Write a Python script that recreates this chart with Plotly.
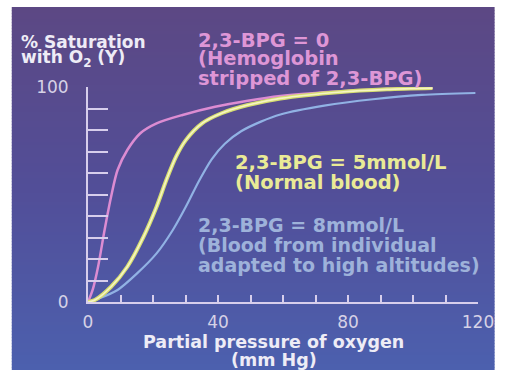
import plotly.graph_objects as go

# Oxygen dissociation curves of hemoglobin at three 2,3-BPG levels
# partial pressure of O2 (mm Hg) and % saturation (Y)
pink_po2 = [0, 1.5, 3.1, 5.1, 7.1, 9.1, 12.1, 16.1, 21.1, 29.1, 39.1, 49.2, 59.2, 75, 90, 106]
pink_sat = [0, 6, 16.4, 33.5, 49, 61.4, 70.7, 78.5, 83.1, 87, 90.8, 93.6, 95.8, 97.8, 99, 99.6]

yellow_po2 = [0, 2.1, 7.1, 12.1, 17.1, 21.1, 24.1, 27.1, 30.1, 35.1, 41.1, 49.2, 59.2, 77.8, 92, 106]
yellow_sat = [0, 0.9, 7.1, 16.4, 30.4, 44.3, 56.7, 67.6, 75.3, 83.1, 87.8, 91.6, 94.7, 97.7, 98.9, 99.5]

blue_po2 = [0, 3.1, 9.1, 15.1, 21.1, 26.1, 30.1, 34.1, 38.1, 42.1, 47.1, 53.2, 59.2, 72.7, 87.7, 102.7, 119.2]
blue_sat = [0, 1.5, 5.6, 13.3, 22.6, 33.5, 44.3, 56.2, 66.5, 73.6, 79.4, 83.9, 87.2, 91.3, 94.3, 96.3, 97.2]

x_label_vals = [0, 40, 80, 120]
x_label_text = ["0", "40", "80", "120"]
y_label_vals = [0, 100]
y_label_text = ["0", "100"]

W, H = 506, 370
ML, MR, MT, MB = 88, 19, 87, 68
PW, PH = W - ML - MR, H - MT - MB


def px(x):
    return (x - ML) / PW


def py(y):
    return (H - MB - y) / PH


fig = go.Figure()

# (x, y, colour, width); the normal-blood curve gets a pale core over a yellow stroke
series = [
    (pink_po2, pink_sat, "rgb(220,140,210)", 2.5),
    (blue_po2, blue_sat, "rgb(145,178,228)", 2.2),
    (yellow_po2, yellow_sat, "rgb(214,222,112)", 4),
    (yellow_po2, yellow_sat, "rgb(246,244,196)", 1.6),
]
for xs, ys, col, w in series:
    fig.add_trace(go.Scatter(
        x=xs, y=ys, mode="lines",
        line=dict(color=col, width=w, shape="spline", smoothing=0.8),
        hoverinfo="skip", showlegend=False, cliponaxis=False,
    ))

# vertical purple-to-blue backdrop
stops = [(0.0, (92, 72, 132)), (0.5, (82, 78, 152)), (1.0, (76, 96, 174))]


def grad(t):
    for (t0, c0), (t1, c1) in zip(stops[:-1], stops[1:]):
        if t <= t1:
            f = (t - t0) / (t1 - t0)
            return tuple(round(a + (b - a) * f) for a, b in zip(c0, c1))
    return stops[-1][1]


top, bottom, left, right = 7, H, 10, 504
n = 121
shapes = []
for i in range(n):
    y0 = top + (bottom - top) * i / n
    y1 = top + (bottom - top) * (i + 1) / n + 0.6
    r, g, b = grad(i / (n - 1))
    shapes.append(dict(
        type="rect", xref="paper", yref="paper", layer="below",
        x0=px(left), x1=px(right), y0=py(min(y1, bottom)), y1=py(y0),
        fillcolor=f"rgb({r},{g},{b})", line=dict(width=0),
    ))

WHITE = "rgb(238,236,246)"
BOLD = "DejaVu Sans"


def label(text, x, y, color, size, anchor="left"):
    return dict(
        text=text, xref="paper", yref="paper", x=px(x), y=py(y),
        xanchor=anchor, yanchor="middle", showarrow=False,
        font=dict(family=BOLD, size=size, color=color, weight="bold"),
    )


pink_txt = "rgb(222,150,214)"
yellow_txt = "rgb(234,234,150)"
blue_txt = "rgb(158,178,218)"

annotations = [
    label("% Saturation", 17, 42, WHITE, 17),
    label("with O<sub>2</sub> (Y)", 17, 59, WHITE, 17),
    label("2,3-BPG = 0", 198, 40, pink_txt, 19.5),
    label("(Hemoglobin", 198, 59, pink_txt, 19.5),
    label("stripped of 2,3-BPG)", 198, 78, pink_txt, 19.5),
    label("2,3-BPG = 5mmol/L", 236, 162, yellow_txt, 19.5),
    label("(Normal blood)", 236, 182, yellow_txt, 19.5),
    label("2,3-BPG = 8mmol/L", 199, 225, blue_txt, 19),
    label("(Blood from individual", 199, 245, blue_txt, 19),
    label("adapted to high altitudes)", 199, 265, blue_txt, 19),
    label("Partial pressure of oxygen", 278, 342, WHITE, 17.5, "center"),
    label("(mm Hg)", 278, 360, WHITE, 17.5, "center"),
]

axis_col = "rgb(215,206,236)"
tick_font = dict(family="DejaVu Sans", size=17, color="rgb(214,210,230)")

fig.update_layout(
    width=W, height=H,
    margin=dict(l=ML, r=MR, t=MT, b=MB, pad=0),
    paper_bgcolor="white",
    plot_bgcolor="rgba(0,0,0,0)",
    shapes=shapes,
    annotations=annotations,
    xaxis=dict(
        range=[0, 120], tickmode="array",
        tickvals=x_label_vals, ticktext=x_label_text,
        ticks="inside", ticklen=7, tickwidth=2, tickcolor=axis_col,
        minor=dict(dtick=10, tick0=0, ticks="inside", ticklen=7,
                   tickwidth=2, tickcolor=axis_col, showgrid=False),
        showline=True, linewidth=2, linecolor=axis_col,
        showgrid=False, zeroline=False, tickfont=tick_font,
        ticklabelstandoff=4, fixedrange=True,
    ),
    yaxis=dict(
        range=[0, 100], tickmode="array",
        tickvals=y_label_vals, ticktext=y_label_text,
        ticks="inside", ticklen=20, tickwidth=2, tickcolor=axis_col,
        minor=dict(dtick=10, tick0=0, ticks="inside", ticklen=20,
                   tickwidth=2, tickcolor=axis_col, showgrid=False),
        showline=True, linewidth=2, linecolor=axis_col,
        showgrid=False, zeroline=False, tickfont=tick_font,
        ticklabelstandoff=14, fixedrange=True,
    ),
)

fig.write_html("out.html")
